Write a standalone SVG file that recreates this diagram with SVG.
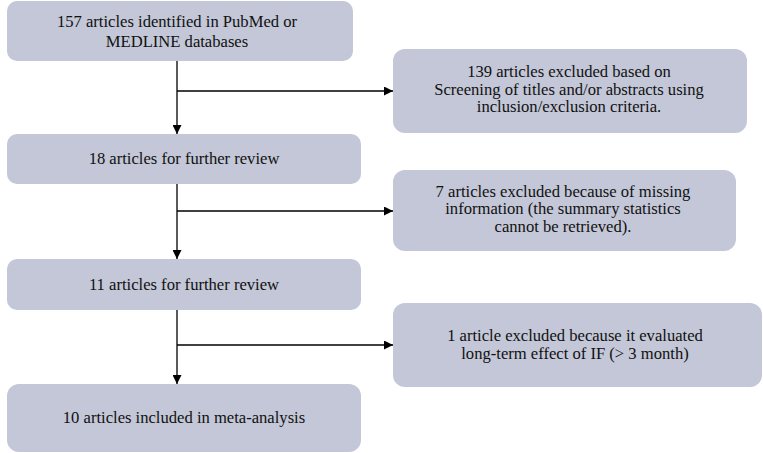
<svg xmlns="http://www.w3.org/2000/svg" width="763" height="453" viewBox="0 0 763 453">
<style>
.box{fill:#c3c7d7;}
.t{font-family:"Liberation Serif","Times New Roman",serif;font-size:16.6px;fill:#111;text-anchor:middle;}
.c{stroke:#000;stroke-width:1.3;fill:none;}
</style>
<defs>
<marker id="ah" viewBox="0 0 10 10" refX="10" refY="5" markerWidth="9" markerHeight="9" markerUnits="userSpaceOnUse" orient="auto">
<path d="M0,0 L10,5 L0,10 z" fill="#000"/>
</marker>
</defs>
<g id="connectors">
<path class="c" d="M177,61 V134" marker-end="url(#ah)"/>
<path class="c" d="M177,91 H393" marker-end="url(#ah)"/>
<path class="c" d="M177,184 V259" marker-end="url(#ah)"/>
<path class="c" d="M177,211 H393" marker-end="url(#ah)"/>
<path class="c" d="M177,310 V384" marker-end="url(#ah)"/>
<path class="c" d="M177,345 H393" marker-end="url(#ah)"/>
</g>
<g id="n1">
<rect class="box" x="7" y="1" width="346" height="60" rx="10"/>
<text class="t" x="177" y="27">157 articles identified in PubMed or</text>
<text class="t" x="177" y="46.5">MEDLINE databases</text>
</g>
<g id="n2">
<rect class="box" x="393" y="49" width="354" height="84" rx="12"/>
<text class="t" x="569" y="77">139 articles excluded based on</text>
<text class="t" x="569" y="94.5">Screening of titles and/or abstracts using</text>
<text class="t" x="569" y="112">inclusion/exclusion criteria.</text>
</g>
<g id="n3">
<rect class="box" x="7" y="134" width="354" height="50" rx="10"/>
<text class="t" x="184" y="163.5">18 articles for further review</text>
</g>
<g id="n4">
<rect class="box" x="393" y="170" width="343" height="81" rx="12"/>
<text class="t" x="563" y="196.5">7 articles excluded because of missing</text>
<text class="t" x="563" y="214">information (the summary statistics</text>
<text class="t" x="563" y="231.5">cannot be retrieved).</text>
</g>
<g id="n5">
<rect class="box" x="7" y="259" width="354" height="51" rx="10"/>
<text class="t" x="184" y="289.5">11 articles for further review</text>
</g>
<g id="n6">
<rect class="box" x="393" y="303" width="369" height="84" rx="12"/>
<text class="t" x="575" y="340.5">1 article excluded because it evaluated</text>
<text class="t" x="575" y="358.5">long-term effect of IF (&gt; 3 month)</text>
</g>
<g id="n7">
<rect class="box" x="7" y="384" width="354" height="68" rx="12"/>
<text class="t" x="184" y="422.5">10 articles included in meta-analysis</text>
</g>
</svg>
